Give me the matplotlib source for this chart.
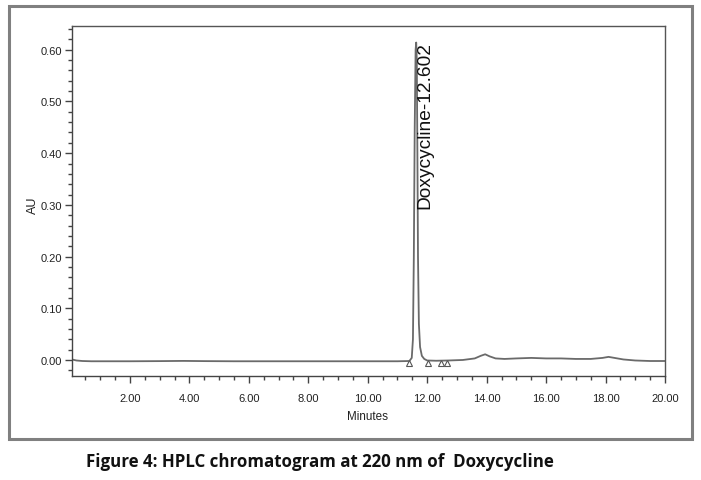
import matplotlib
matplotlib.use("Agg")
import matplotlib.pyplot as plt
from matplotlib.patches import Rectangle
from matplotlib.ticker import MultipleLocator

# Chromatogram trace (minutes, AU)
time_min = [0.05, 0.2, 0.4, 0.7, 1.0, 2.0, 3.0, 3.8, 4.5, 5.5, 6.5, 7.5, 8.5, 9.5, 10.5, 11.0,
            11.40, 11.48, 11.52, 11.55, 11.58, 11.61, 11.63, 11.65, 11.67, 11.69, 11.72,
            11.76, 11.82, 11.90, 12.0, 12.3, 12.7, 13.2, 13.6, 13.8, 13.95, 14.1, 14.3,
            14.6, 15.0, 15.5, 16.0, 16.5, 17.0, 17.5, 17.9, 18.1, 18.3, 18.6, 19.0, 19.5, 20.0]
absorb_au = [0.001, -0.001, -0.002, -0.0025, -0.0025, -0.0025, -0.0022, -0.0018, -0.0022, -0.0025,
             -0.0025, -0.0025, -0.0025, -0.0025, -0.0025, -0.0025,
             -0.002, 0.004, 0.04, 0.20, 0.45, 0.60, 0.614, 0.58, 0.40, 0.20, 0.07,
             0.025, 0.008, 0.002, -0.001, -0.0015, -0.001, 0.000, 0.003, 0.008, 0.011, 0.007, 0.003,
             0.002, 0.003, 0.004, 0.003, 0.003, 0.002, 0.002, 0.004, 0.006, 0.004, 0.001, -0.001, -0.002, -0.002]

# Integration markers (minutes, AU)
marker_min = [11.40, 12.02, 12.45, 12.68]
marker_au = [-0.0055, -0.0055, -0.0055, -0.0055]

peak_label = "Doxycycline-12.602"
peak_label_pos = (11.93, 0.456)

x_ticks = [2, 4, 6, 8, 10, 12, 14, 16, 18, 20]
x_ticklabels = ["2.00", "4.00", "6.00", "8.00", "10.00", "12.00", "14.00", "16.00", "18.00", "20.00"]
y_ticks = [0.0, 0.1, 0.2, 0.3, 0.4, 0.5, 0.6]
y_ticklabels = ["0.00", "0.10", "0.20", "0.30", "0.40", "0.50", "0.60"]

caption = "Figure 4: HPLC chromatogram at 220 nm of  Doxycycline"

W, H = 701, 481
fig = plt.figure(figsize=(W / 100, H / 100), dpi=100)
fig.patch.set_facecolor("white")

# outer frame
fig.add_artist(Rectangle((9 / W, 1 - 440 / H), (692 - 9) / W, (440 - 7) / H,
                         transform=fig.transFigure, fill=False, edgecolor="#808080", linewidth=2.2))

ax = fig.add_axes([72 / W, 1 - 377 / H, (665 - 72) / W, (377 - 27) / H])
tick_font = ["Liberation Sans", "DejaVu Sans"]

ax.plot(time_min, absorb_au, color="#6a6a6a", linewidth=1.3)
ax.plot(marker_min, marker_au, linestyle="none", marker="^", markersize=4.5,
        markerfacecolor="white", markeredgecolor="#555555", markeredgewidth=0.8)

ax.text(peak_label_pos[0], peak_label_pos[1], peak_label, rotation=90, ha="center", va="center",
        fontsize=13.8, family=["Liberation Sans", "DejaVu Sans"], color="#111111")

ax.set_xlim(0.05, 20.0)
ax.set_ylim(-0.031, 0.646)
ax.set_xticks(x_ticks)
ax.set_xticklabels(x_ticklabels, family=tick_font, fontsize=8.0)
ax.set_yticks(y_ticks)
ax.set_yticklabels(y_ticklabels, family=tick_font, fontsize=8.0)
ax.xaxis.set_minor_locator(MultipleLocator(0.5))
ax.yaxis.set_minor_locator(MultipleLocator(0.02))
ax.tick_params(axis="both", which="major", length=5, width=1.0, color="#444444", pad=2, labelcolor="#222222")
ax.tick_params(axis="both", which="minor", length=3, width=1.0, color="#444444")
ax.tick_params(axis="x", which="major", pad=7)

for s in ax.spines.values():
    s.set_color("#444444")
    s.set_linewidth(1.0)
ax.spines["top"].set_color("#555555")
ax.spines["right"].set_color("#555555")

fig.text(368 / W, 1 - 417 / H, "Minutes", ha="center", va="center", family=tick_font, fontsize=8.4, color="#222222")
fig.text(33 / W, 1 - 205 / H, "AU", ha="center", va="center", rotation=90, family=tick_font, fontsize=9, color="#222222")

fig.text(320 / W, 1 - 462 / H, caption, ha="center", va="center", fontsize=12.2, fontweight="bold",
         family=["Open Sans", "DejaVu Sans"], color="#111111")

fig.savefig("out.png", dpi=100)
